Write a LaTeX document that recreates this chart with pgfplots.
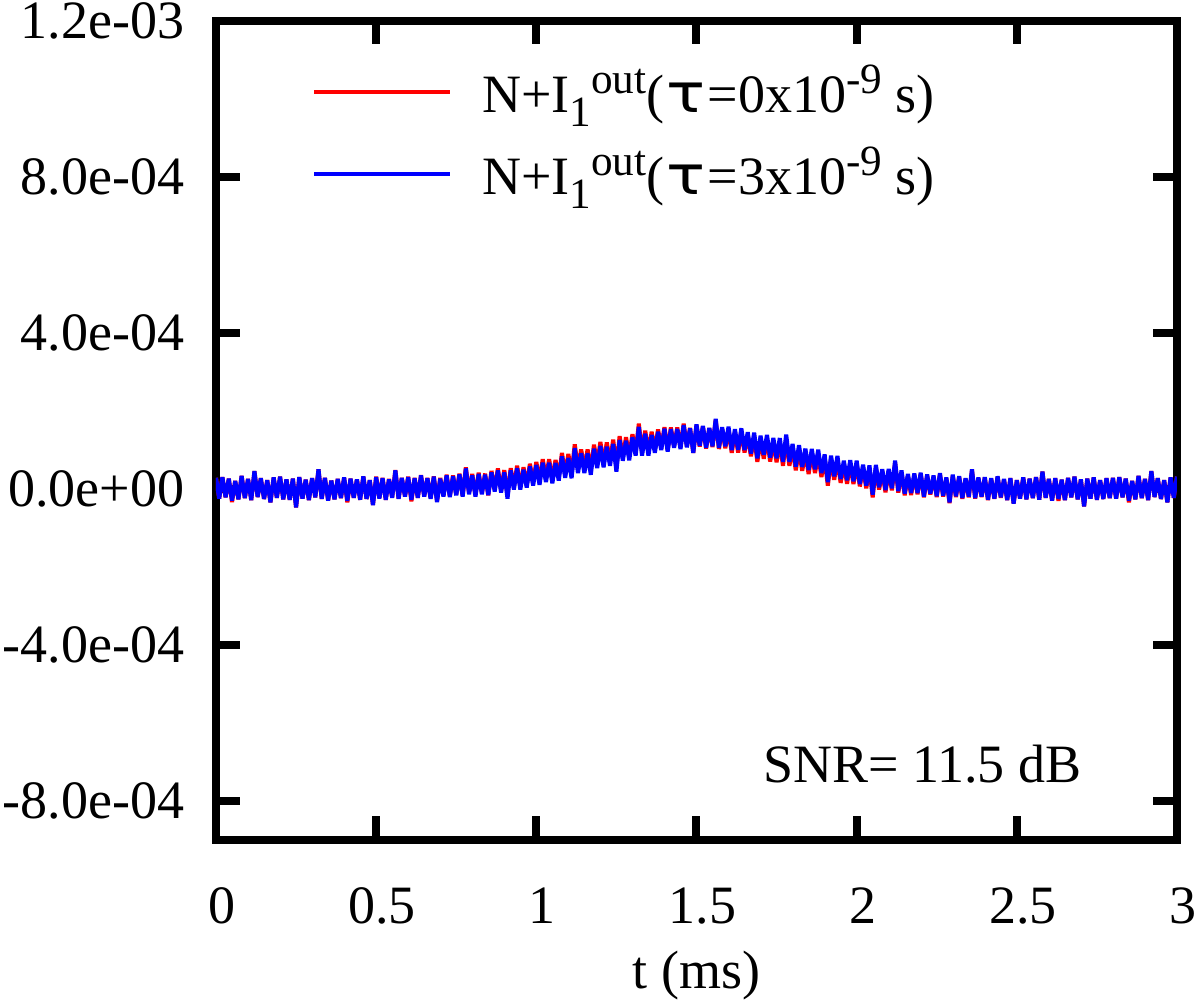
\documentclass[border=0pt]{standalone}
\usepackage{fontspec}
\setmainfont{Liberation Serif}
\newfontfamily\dejavu{DejaVu Sans}
\usepackage{graphicx}
\usepackage{pgfplots}
\usepackage{pgfplotstable}
\pgfplotsset{compat=1.18}

% values in units of 1e-4
\pgfplotstableread[row sep=\\]{
x y\\
0.00 0.28\\ 0.01 -0.25\\ 0.02 0.30\\ 0.03 -0.22\\ 0.04 0.26\\ 0.05 -0.34\\ 0.06 0.20\\ 0.07 -0.27\\ 0.08 0.33\\ 0.09 -0.24\\
0.10 0.25\\ 0.11 -0.29\\ 0.12 0.45\\ 0.13 -0.21\\ 0.14 0.27\\ 0.15 -0.26\\ 0.16 0.22\\ 0.17 -0.35\\ 0.18 0.29\\ 0.19 -0.23\\
0.20 0.31\\ 0.21 -0.27\\ 0.22 0.24\\ 0.23 -0.28\\ 0.24 0.26\\ 0.25 -0.48\\ 0.26 0.30\\ 0.27 -0.25\\ 0.28 0.23\\ 0.29 -0.29\\
0.30 0.27\\ 0.31 -0.22\\ 0.32 0.50\\ 0.33 -0.26\\ 0.34 0.28\\ 0.35 -0.30\\ 0.36 0.21\\ 0.37 -0.27\\ 0.38 0.25\\ 0.39 -0.24\\
0.40 0.29\\ 0.41 -0.35\\ 0.42 0.26\\ 0.43 -0.23\\ 0.44 0.24\\ 0.45 -0.28\\ 0.46 0.32\\ 0.47 -0.26\\ 0.48 0.22\\ 0.49 -0.41\\
0.50 0.31\\ 0.51 -0.24\\ 0.52 0.28\\ 0.53 -0.28\\ 0.54 0.25\\ 0.55 -0.22\\ 0.56 0.48\\ 0.57 -0.25\\ 0.58 0.28\\ 0.59 -0.19\\
0.60 0.31\\ 0.61 -0.32\\ 0.62 0.28\\ 0.63 -0.23\\ 0.64 0.35\\ 0.65 -0.19\\ 0.66 0.28\\ 0.67 -0.24\\ 0.68 0.32\\ 0.69 -0.32\\
0.70 0.28\\ 0.71 -0.18\\ 0.72 0.36\\ 0.73 -0.19\\ 0.74 0.34\\ 0.75 -0.15\\ 0.76 0.39\\ 0.77 -0.18\\ 0.78 0.55\\ 0.79 -0.11\\
0.80 0.38\\ 0.81 -0.17\\ 0.82 0.41\\ 0.83 -0.11\\ 0.84 0.39\\ 0.85 -0.17\\ 0.86 0.46\\ 0.87 -0.02\\ 0.88 0.52\\ 0.89 -0.04\\
0.90 0.48\\ 0.91 -0.19\\ 0.92 0.53\\ 0.93 0.04\\ 0.94 0.59\\ 0.95 0.04\\ 0.96 0.55\\ 0.97 0.09\\ 0.98 0.64\\ 0.99 0.15\\
1.00 0.69\\ 1.01 0.19\\ 1.02 0.76\\ 1.03 0.26\\ 1.04 0.76\\ 1.05 0.22\\ 1.06 0.74\\ 1.07 0.29\\ 1.08 0.92\\ 1.09 0.37\\
1.10 0.89\\ 1.11 0.37\\ 1.12 1.14\\ 1.13 0.50\\ 1.14 1.01\\ 1.15 0.50\\ 1.16 1.01\\ 1.17 0.47\\ 1.18 1.13\\ 1.19 0.64\\
1.20 1.20\\ 1.21 0.65\\ 1.22 1.19\\ 1.23 0.69\\ 1.24 1.26\\ 1.25 0.54\\ 1.26 1.35\\ 1.27 0.82\\ 1.28 1.32\\ 1.29 0.82\\
1.30 1.40\\ 1.31 0.93\\ 1.32 1.67\\ 1.33 0.93\\ 1.34 1.49\\ 1.35 0.93\\ 1.36 1.46\\ 1.37 0.99\\ 1.38 1.52\\ 1.39 1.04\\
1.40 1.58\\ 1.41 0.99\\ 1.42 1.57\\ 1.43 1.09\\ 1.44 1.57\\ 1.45 1.06\\ 1.46 1.67\\ 1.47 1.09\\ 1.48 1.56\\ 1.49 0.92\\
1.50 1.63\\ 1.51 1.08\\ 1.52 1.60\\ 1.53 1.03\\ 1.54 1.55\\ 1.55 1.07\\ 1.56 1.77\\ 1.57 1.02\\ 1.58 1.54\\ 1.59 1.04\\
1.60 1.52\\ 1.61 0.92\\ 1.62 1.46\\ 1.63 0.93\\ 1.64 1.48\\ 1.65 0.93\\ 1.66 1.38\\ 1.67 0.83\\ 1.68 1.36\\ 1.69 0.69\\
1.70 1.26\\ 1.71 0.77\\ 1.72 1.29\\ 1.73 0.70\\ 1.74 1.21\\ 1.75 0.68\\ 1.76 1.20\\ 1.77 0.59\\ 1.78 1.29\\ 1.79 0.59\\
1.80 1.05\\ 1.81 0.47\\ 1.82 1.01\\ 1.83 0.46\\ 1.84 0.92\\ 1.85 0.38\\ 1.86 0.92\\ 1.87 0.40\\ 1.88 0.90\\ 1.89 0.30\\
1.90 0.79\\ 1.91 0.08\\ 1.92 0.76\\ 1.93 0.23\\ 1.94 0.75\\ 1.95 0.15\\ 1.96 0.63\\ 1.97 0.13\\ 1.98 0.65\\ 1.99 0.12\\
2.00 0.65\\ 2.01 0.06\\ 2.02 0.55\\ 2.03 0.01\\ 2.04 0.53\\ 2.05 -0.22\\ 2.06 0.54\\ 2.07 -0.02\\ 2.08 0.45\\ 2.09 -0.09\\
2.10 0.46\\ 2.11 -0.04\\ 2.12 0.67\\ 2.13 -0.10\\ 2.14 0.42\\ 2.15 -0.17\\ 2.16 0.33\\ 2.17 -0.16\\ 2.18 0.36\\ 2.19 -0.14\\
2.20 0.39\\ 2.21 -0.22\\ 2.22 0.34\\ 2.23 -0.15\\ 2.24 0.31\\ 2.25 -0.21\\ 2.26 0.38\\ 2.27 -0.20\\ 2.28 0.27\\ 2.29 -0.37\\
2.30 0.34\\ 2.31 -0.21\\ 2.32 0.31\\ 2.33 -0.26\\ 2.34 0.26\\ 2.35 -0.22\\ 2.36 0.48\\ 2.37 -0.25\\ 2.38 0.28\\ 2.39 -0.21\\
2.40 0.29\\ 2.41 -0.29\\ 2.42 0.26\\ 2.43 -0.26\\ 2.44 0.31\\ 2.45 -0.23\\ 2.46 0.24\\ 2.47 -0.29\\ 2.48 0.27\\ 2.49 -0.38\\
2.50 0.22\\ 2.51 -0.25\\ 2.52 0.29\\ 2.53 -0.27\\ 2.54 0.26\\ 2.55 -0.24\\ 2.56 0.30\\ 2.57 -0.28\\ 2.58 0.44\\ 2.59 -0.23\\
2.60 0.25\\ 2.61 -0.30\\ 2.62 0.27\\ 2.63 -0.31\\ 2.64 0.23\\ 2.65 -0.29\\ 2.66 0.28\\ 2.67 -0.22\\ 2.68 0.31\\ 2.69 -0.27\\
2.70 0.24\\ 2.71 -0.45\\ 2.72 0.26\\ 2.73 -0.25\\ 2.74 0.29\\ 2.75 -0.28\\ 2.76 0.22\\ 2.77 -0.26\\ 2.78 0.27\\ 2.79 -0.24\\
2.80 0.28\\ 2.81 -0.25\\ 2.82 0.30\\ 2.83 -0.22\\ 2.84 0.26\\ 2.85 -0.35\\ 2.86 0.20\\ 2.87 -0.27\\ 2.88 0.33\\ 2.89 -0.24\\
2.90 0.25\\ 2.91 -0.29\\ 2.92 0.45\\ 2.93 -0.21\\ 2.94 0.27\\ 2.95 -0.26\\ 2.96 0.22\\ 2.97 -0.35\\ 2.98 0.29\\ 2.99 -0.23\\
3.00 0.31\\
}\redtab

\pgfplotstableread[row sep=\\]{
x y\\
0.00 0.28\\ 0.01 -0.25\\ 0.02 0.30\\ 0.03 -0.22\\ 0.04 0.26\\ 0.05 -0.30\\ 0.06 0.20\\ 0.07 -0.27\\ 0.08 0.33\\ 0.09 -0.24\\
0.10 0.25\\ 0.11 -0.29\\ 0.12 0.45\\ 0.13 -0.21\\ 0.14 0.27\\ 0.15 -0.26\\ 0.16 0.22\\ 0.17 -0.35\\ 0.18 0.29\\ 0.19 -0.23\\
0.20 0.31\\ 0.21 -0.27\\ 0.22 0.24\\ 0.23 -0.28\\ 0.24 0.26\\ 0.25 -0.48\\ 0.26 0.30\\ 0.27 -0.25\\ 0.28 0.23\\ 0.29 -0.29\\
0.30 0.27\\ 0.31 -0.22\\ 0.32 0.50\\ 0.33 -0.26\\ 0.34 0.28\\ 0.35 -0.30\\ 0.36 0.21\\ 0.37 -0.27\\ 0.38 0.25\\ 0.39 -0.24\\
0.40 0.29\\ 0.41 -0.31\\ 0.42 0.26\\ 0.43 -0.23\\ 0.44 0.24\\ 0.45 -0.28\\ 0.46 0.32\\ 0.47 -0.26\\ 0.48 0.22\\ 0.49 -0.42\\
0.50 0.30\\ 0.51 -0.25\\ 0.52 0.27\\ 0.53 -0.28\\ 0.54 0.24\\ 0.55 -0.23\\ 0.56 0.47\\ 0.57 -0.26\\ 0.58 0.28\\ 0.59 -0.20\\
0.60 0.30\\ 0.61 -0.28\\ 0.62 0.27\\ 0.63 -0.23\\ 0.64 0.34\\ 0.65 -0.20\\ 0.66 0.27\\ 0.67 -0.26\\ 0.68 0.31\\ 0.69 -0.34\\
0.70 0.26\\ 0.71 -0.20\\ 0.72 0.34\\ 0.73 -0.21\\ 0.74 0.32\\ 0.75 -0.17\\ 0.76 0.37\\ 0.77 -0.20\\ 0.78 0.52\\ 0.79 -0.14\\
0.80 0.34\\ 0.81 -0.20\\ 0.82 0.38\\ 0.83 -0.14\\ 0.84 0.36\\ 0.85 -0.16\\ 0.86 0.42\\ 0.87 -0.07\\ 0.88 0.47\\ 0.89 -0.10\\
0.90 0.42\\ 0.91 -0.25\\ 0.92 0.47\\ 0.93 -0.02\\ 0.94 0.53\\ 0.95 -0.02\\ 0.96 0.49\\ 0.97 0.03\\ 0.98 0.57\\ 0.99 0.08\\
1.00 0.61\\ 1.01 0.10\\ 1.02 0.67\\ 1.03 0.17\\ 1.04 0.67\\ 1.05 0.14\\ 1.06 0.66\\ 1.07 0.21\\ 1.08 0.83\\ 1.09 0.28\\
1.10 0.79\\ 1.11 0.27\\ 1.12 1.04\\ 1.13 0.40\\ 1.14 0.91\\ 1.15 0.40\\ 1.16 0.91\\ 1.17 0.36\\ 1.18 1.03\\ 1.19 0.53\\
1.20 1.10\\ 1.21 0.55\\ 1.22 1.08\\ 1.23 0.59\\ 1.24 1.15\\ 1.25 0.44\\ 1.26 1.25\\ 1.27 0.72\\ 1.28 1.23\\ 1.29 0.73\\
1.30 1.32\\ 1.31 0.85\\ 1.32 1.59\\ 1.33 0.85\\ 1.34 1.41\\ 1.35 0.85\\ 1.36 1.38\\ 1.37 0.92\\ 1.38 1.46\\ 1.39 0.99\\
1.40 1.54\\ 1.41 0.95\\ 1.42 1.53\\ 1.43 1.05\\ 1.44 1.53\\ 1.45 1.02\\ 1.46 1.63\\ 1.47 1.06\\ 1.48 1.55\\ 1.49 0.92\\
1.50 1.65\\ 1.51 1.10\\ 1.52 1.61\\ 1.53 1.05\\ 1.54 1.56\\ 1.55 1.09\\ 1.56 1.79\\ 1.57 1.05\\ 1.58 1.58\\ 1.59 1.09\\
1.60 1.59\\ 1.61 0.99\\ 1.62 1.53\\ 1.63 1.00\\ 1.64 1.55\\ 1.65 0.99\\ 1.66 1.45\\ 1.67 0.90\\ 1.68 1.44\\ 1.69 0.78\\
1.70 1.36\\ 1.71 0.87\\ 1.72 1.38\\ 1.73 0.80\\ 1.74 1.30\\ 1.75 0.78\\ 1.76 1.30\\ 1.77 0.69\\ 1.78 1.39\\ 1.79 0.69\\
1.80 1.15\\ 1.81 0.57\\ 1.82 1.12\\ 1.83 0.56\\ 1.84 1.03\\ 1.85 0.48\\ 1.86 1.02\\ 1.87 0.50\\ 1.88 1.00\\ 1.89 0.40\\
1.90 0.88\\ 1.91 0.17\\ 1.92 0.85\\ 1.93 0.32\\ 1.94 0.84\\ 1.95 0.25\\ 1.96 0.72\\ 1.97 0.22\\ 1.98 0.73\\ 1.99 0.19\\
2.00 0.72\\ 2.01 0.12\\ 2.02 0.62\\ 2.03 0.08\\ 2.04 0.60\\ 2.05 -0.15\\ 2.06 0.61\\ 2.07 0.04\\ 2.08 0.50\\ 2.09 -0.03\\
2.10 0.51\\ 2.11 0.01\\ 2.12 0.72\\ 2.13 -0.06\\ 2.14 0.47\\ 2.15 -0.12\\ 2.16 0.38\\ 2.17 -0.11\\ 2.18 0.39\\ 2.19 -0.11\\
2.20 0.41\\ 2.21 -0.20\\ 2.22 0.37\\ 2.23 -0.13\\ 2.24 0.34\\ 2.25 -0.19\\ 2.26 0.40\\ 2.27 -0.18\\ 2.28 0.29\\ 2.29 -0.35\\
2.30 0.36\\ 2.31 -0.19\\ 2.32 0.32\\ 2.33 -0.24\\ 2.34 0.27\\ 2.35 -0.20\\ 2.36 0.50\\ 2.37 -0.24\\ 2.38 0.29\\ 2.39 -0.20\\
2.40 0.30\\ 2.41 -0.28\\ 2.42 0.27\\ 2.43 -0.25\\ 2.44 0.32\\ 2.45 -0.22\\ 2.46 0.25\\ 2.47 -0.29\\ 2.48 0.27\\ 2.49 -0.38\\
2.50 0.22\\ 2.51 -0.25\\ 2.52 0.29\\ 2.53 -0.27\\ 2.54 0.26\\ 2.55 -0.24\\ 2.56 0.30\\ 2.57 -0.28\\ 2.58 0.44\\ 2.59 -0.23\\
2.60 0.25\\ 2.61 -0.30\\ 2.62 0.27\\ 2.63 -0.26\\ 2.64 0.23\\ 2.65 -0.29\\ 2.66 0.28\\ 2.67 -0.22\\ 2.68 0.31\\ 2.69 -0.27\\
2.70 0.24\\ 2.71 -0.45\\ 2.72 0.26\\ 2.73 -0.25\\ 2.74 0.29\\ 2.75 -0.28\\ 2.76 0.22\\ 2.77 -0.26\\ 2.78 0.27\\ 2.79 -0.24\\
2.80 0.28\\ 2.81 -0.25\\ 2.82 0.30\\ 2.83 -0.22\\ 2.84 0.26\\ 2.85 -0.30\\ 2.86 0.20\\ 2.87 -0.27\\ 2.88 0.33\\ 2.89 -0.24\\
2.90 0.25\\ 2.91 -0.29\\ 2.92 0.45\\ 2.93 -0.21\\ 2.94 0.27\\ 2.95 -0.26\\ 2.96 0.22\\ 2.97 -0.35\\ 2.98 0.29\\ 2.99 -0.23\\
3.00 0.31\\
}\bluetab

\newcommand{\lstrut}{\rule[-5.95pt]{0pt}{24.3pt}}
\newcommand{\sups}[1]{\raisebox{5.9pt}{\fontsize{12.8}{14}\selectfont #1}}
\newcommand{\subs}[1]{\raisebox{-3.9pt}{\fontsize{12.8}{14}\selectfont #1}}
\newcommand{\tauchar}{\hspace{0.6pt}\scalebox{1.2}[1]{\dejavu τ}\hspace{0.6pt}}

\begin{document}
\fontsize{16}{19.2}\selectfont
\begin{tikzpicture}
\begin{axis}[
  at={(0pt,0pt)}, anchor=south west, name=ax,
  scale only axis, width=284.74pt, height=242.81pt,
  xmin=0, xmax=3, ymin=-9, ymax=12,
  xtick={0,0.5,1,1.5,2,2.5,3},
  xticklabels={0,0.5,1,1.5,2,2.5,3},
  ytick={-8,-4,0,4,8,12},
  yticklabels={-8.0e-04,-4.0e-04,0.0e+00,4.0e-04,8.0e-04,1.2e-03},
  tick align=inside,
  major tick length=7.1pt,
  tick style={line width=2.37pt, black},
  axis line style={line width=2.37pt, line join=miter},
  xticklabel style={anchor=north, inner sep=0pt, yshift=-13.9pt, xshift=1.8pt},
  yticklabel style={anchor=east, inner sep=0pt, xshift=-9.2pt},
  xlabel={t (ms)},
  xlabel style={at={(axis description cs:0.5,0)}, anchor=base, inner sep=0pt, yshift=-43.9pt},
  legend cell align=left,
  legend style={at={(axis description cs:0.0998,0.9628)}, anchor=north west,
    draw=none, fill=none, inner sep=0pt, outer sep=0pt, row sep=0pt, column sep=8.9pt,
    nodes={inner sep=0pt, text height=18.35pt, text depth=5.95pt}},
  legend image code/.code={\draw[#1, line width=1.3pt, line cap=butt] (0pt,0pt) -- (40.3pt,0pt);},
  no markers,
]
\addplot[color=red, line width=1.2pt, line join=miter, miter limit=2] table[x=x, y=y] {\redtab};
\addlegendentry{\lstrut N+I\subs{1}\sups{out}(\tauchar=0x10\sups{-9} s)}
\addplot[color=blue, line width=1.2pt, line join=miter, miter limit=2] table[x=x, y=y] {\bluetab};
\addlegendentry{\lstrut N+I\subs{1}\sups{out}(\tauchar=3x10\sups{-9} s)}
\node[anchor=base east, inner sep=0pt] at (axis cs:2.7035,-7.538) {SNR= 11.5 dB};
\end{axis}
\pgfresetboundingbox
\path[use as bounding box] (-64pt,-47.41pt) rectangle (291.56pt,248.89pt);
\end{tikzpicture}
\end{document}
